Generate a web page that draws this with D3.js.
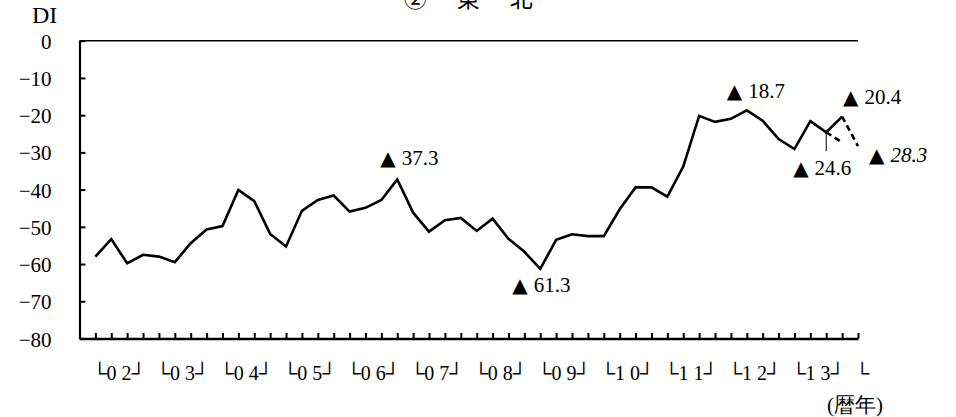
<!DOCTYPE html>
<html>
<head>
<meta charset="utf-8">
<script src="https://cdn.jsdelivr.net/npm/d3@7"></script>
<style>
  body { margin: 0; background: #fff; }
</style>
</head>
<body>
<div id="chart"></div>
<script>
// 東北 DI (quarterly, 2002Q1 - 2013Q4), forecast shown dashed
var years = ["02","03","04","05","06","07","08","09","10","11","12","13"];
var yearLabels = ["└0 2┘","└0 3┘","└0 4┘","└0 5┘","└0 6┘","└0 7┘","└0 8┘","└0 9┘","└1 0┘","└1 1┘","└1 2┘","└1 3┘","└"];
var actual = [
  -58.0, -53.3, -59.8, -57.5,   // 02
  -58.0, -59.5, -54.4, -50.7,   // 03
  -49.8, -40.1, -43.1, -51.9,   // 04
  -55.3, -45.7, -42.8, -41.6,   // 05
  -45.9, -44.9, -42.8, -37.3,   // 06
  -46.2, -51.3, -48.2, -47.6,   // 07
  -51.1, -47.8, -53.2, -56.7,   // 08
  -61.3, -53.5, -52.0, -52.5,   // 09
  -52.5, -45.3, -39.4, -39.4,   // 10
  -41.9, -33.8, -20.2, -21.8,   // 11
  -21.0, -18.7, -21.5, -26.4,   // 12
  -29.1, -21.6, -24.6, -20.4    // 13
];
// 見通し (dashed)
var forecastA = [["13Q3", -24.6], ["13Q4", -27.3]];
var forecastB = [["13Q4", -20.4], ["14Q1", -28.3]];
var yTicks = [0, -10, -20, -30, -40, -50, -60, -70, -80];
// labelled points: quarter, value, text
var notes = [
  ["06Q4", -37.3, "37.3"],
  ["09Q1", -61.3, "61.3"],
  ["12Q2", -18.7, "18.7"],
  ["13Q4", -20.4, "20.4"],
  ["13Q3", -24.6, "24.6"],
  ["14Q1", -28.3, "28.3"]
];

var width = 956, height = 417;
var serif = "Liberation Serif";

// quarter keys
var quarters = [""];
years.forEach(function(y){ for (var q = 1; q <= 4; q++) quarters.push(y + "Q" + q); });
quarters.push("14Q1");
var actualData = actual.map(function(v, i){ return [quarters[i + 1], v]; });

var svg = d3.select("#chart").append("svg")
    .attr("width", width)
    .attr("height", height);

var x = d3.scalePoint().domain(quarters).range([79.5, 858]);
var y = d3.scaleLinear().domain([-80, 0]).range([338.5, 40.7]);

// title (top is cut off in the original)
svg.append("text")
    .attr("x", 470).attr("y", 7)
    .attr("text-anchor", "middle")
    .attr("font-family", "Noto Sans CJK JP")
    .attr("font-size", 23)
    .attr("letter-spacing", 3.5)
    .text("②　東　北");

svg.append("text")
    .attr("x", 32).attr("y", 23)
    .attr("font-family", serif)
    .attr("font-size", 24)
    .text("DI");

// zero line
svg.append("line")
    .attr("x1", x.range()[0]).attr("x2", x.range()[1])
    .attr("y1", y(0)).attr("y2", y(0))
    .attr("stroke", "#000").attr("stroke-width", 1.6);

// y axis
var yAxis = svg.append("g")
    .attr("transform", "translate(" + x.range()[0] + ",0)")
    .call(d3.axisLeft(y).tickValues(yTicks).tickSize(-6).tickSizeOuter(0).tickPadding(28));
yAxis.attr("font-family", serif).attr("font-size", 21);
yAxis.select(".domain").attr("stroke-width", 2.2);
yAxis.selectAll(".tick line").attr("stroke-width", 2);
yAxis.selectAll("text").attr("dy", "0.36em");

// x axis
var xAxis = svg.append("g")
    .attr("transform", "translate(0," + y(-80) + ")")
    .call(d3.axisBottom(x).tickValues(quarters.slice(1)).tickSize(-5.5).tickSizeOuter(0).tickFormat(""));
xAxis.select(".domain").attr("stroke-width", 2.4);
xAxis.selectAll(".tick line").attr("stroke-width", 2);

svg.append("g").selectAll("text")
    .data(yearLabels)
    .enter().append("text")
    .attr("x", function(d, i){ return x(quarters[1 + 4 * i]) - 3; })
    .attr("y", 380)
    .attr("font-family", serif)
    .attr("font-size", 20)
    .text(function(d){ return d; });

svg.append("text")
    .attr("x", 827).attr("y", 412)
    .attr("font-family", serif)
    .attr("font-size", 21)
    .text("(暦年)");

// series
var line = d3.line()
    .x(function(d){ return x(d[0]); })
    .y(function(d){ return y(d[1]); });

svg.append("path")
    .datum(actualData)
    .attr("d", line)
    .attr("fill", "none")
    .attr("stroke", "#000")
    .attr("stroke-width", 2.6);

[forecastA, forecastB].forEach(function(seg){
    svg.append("path")
        .datum(seg)
        .attr("d", line)
        .attr("fill", "none")
        .attr("stroke", "#000")
        .attr("stroke-width", 2.6)
        .attr("stroke-dasharray", "6,4");
});

// annotations: offsets from the point
var place = {
    "37.3": [-17, -15], "61.3": [-28, 23], "18.7": [-20, -12],
    "20.4": [1, -13], "24.6": [-33, 43], "28.3": [11, 16]
};

// leader for 24.6
svg.append("line")
    .attr("x1", x("13Q3")).attr("x2", x("13Q3"))
    .attr("y1", y(-24.6)).attr("y2", y(-24.6) + 19)
    .attr("stroke", "#000").attr("stroke-width", 1);

var noteText = svg.append("g").selectAll("text")
    .data(notes)
    .enter().append("text")
    .attr("x", function(d){ return x(d[0]) + place[d[2]][0]; })
    .attr("y", function(d){ return y(d[1]) + place[d[2]][1]; })
    .attr("font-family", serif)
    .attr("font-size", 21);

noteText.append("tspan")
    .attr("font-family", "DejaVu Sans")
    .attr("font-size", 20)
    .text("▲");
noteText.append("tspan")
    .attr("dx", 6)
    .attr("font-style", function(d){ return d[2] === "28.3" ? "italic" : "normal"; })
    .text(function(d){ return d[2]; });
</script>
</body>
</html>
